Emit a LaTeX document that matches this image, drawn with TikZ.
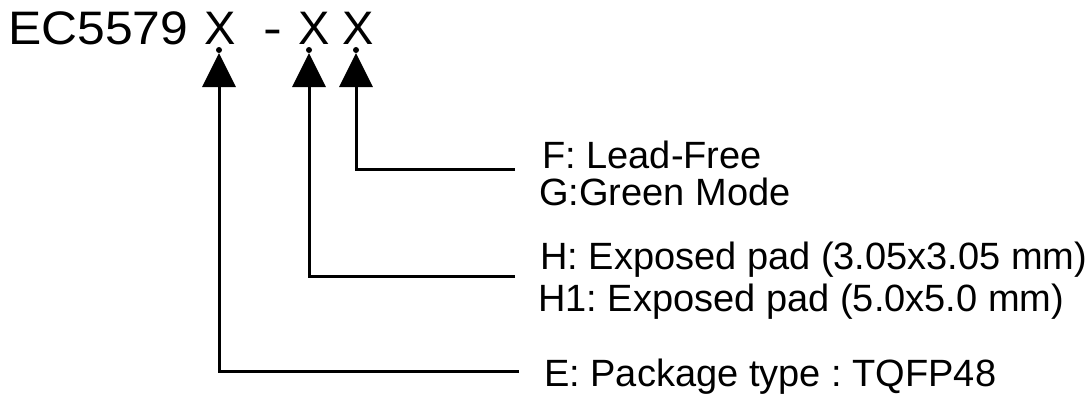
\documentclass[tikz,border=0pt]{standalone}
\usepackage{fontspec}
\setmainfont{Liberation Sans}
\usetikzlibrary{arrows.meta}
\frenchspacing
\tikzset{
  title/.style={inner sep=0, anchor=base, font=\fontsize{47}{50}\selectfont},
  lbl/.style={inner sep=0, anchor=base west, font=\fontsize{38}{42}\selectfont},
  conn/.style={line width=3pt, -{Triangle[length=34pt,width=33pt]}},
  dot/.style={circle, fill=black, inner sep=0, minimum size=6pt}
}
\begin{document}
\begin{tikzpicture}[x=1pt,y=-1pt]
\useasboundingbox (0,0) rectangle (1089,396);
% title
\node[title, anchor=base west, xscale=1.06] (ec) at (8,45) {EC5579};
\node[title] (x1) at (220,45) {X};
\node[title, xscale=1.2] (dash) at (273,45) {-};
\node[title] (x2) at (314,45) {X};
\node[title] (x3) at (358,45) {X};
% dots
\node[dot] (d1) at (219,50) {};
\node[dot] (d2) at (309,50) {};
\node[dot] (d3) at (356,50) {};
% arrow tips
\coordinate (t1) at (219,53);
\coordinate (t2) at (309,53);
\coordinate (t3) at (356,53);
% labels
\node[lbl] (lf) at (542,168) {F: Lead-Free};
\node[lbl] (lg) at (539,205) {G:Green Mode};
\node[lbl] (lh) at (540,269) {H: Exposed pad (3.05x3.05 mm)};
\node[lbl] (lh1) at (538,311) {H1: Exposed pad (5.0x5.0 mm)};
\node[lbl] (le) at (544,386) {E: Package type : TQFP48};
% connector ends
\coordinate (e3) at (515,169);
\coordinate (e2) at (515,276);
\coordinate (e1) at (519,371);
\draw[conn] (e3) -| (t3);
\draw[conn] (e2) -| (t2);
\draw[conn] (e1) -| (t1);
\end{tikzpicture}
\end{document}
